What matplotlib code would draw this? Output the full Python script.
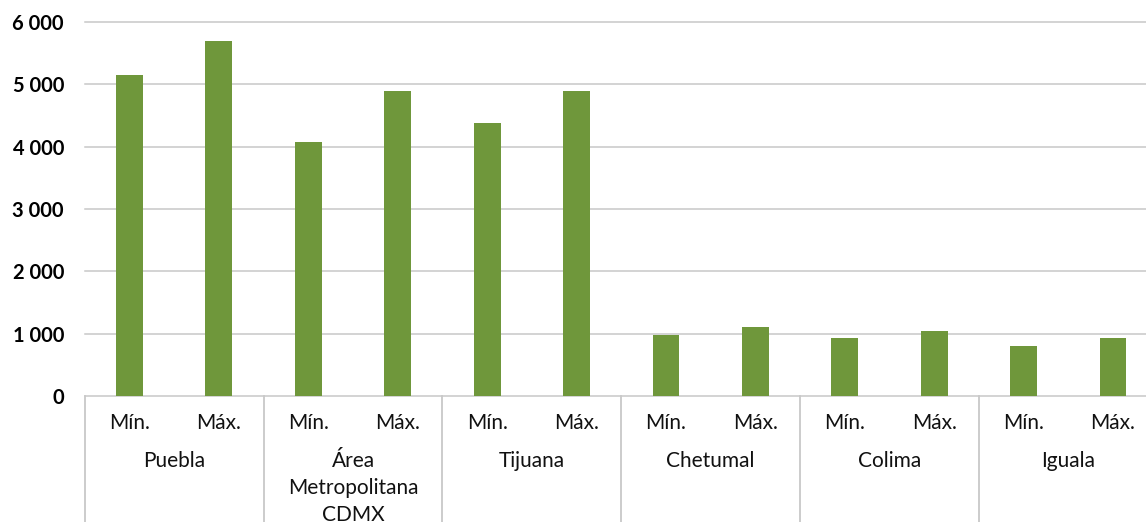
import matplotlib.pyplot as plt
from matplotlib.transforms import blended_transform_factory

# data
cities = ["Puebla", "Área\nMetropolitana\nCDMX", "Tijuana", "Chetumal", "Colima", "Iguala"]
sub_labels = ["Mín.", "Máx."]
min_vals = [5150, 4080, 4380, 980, 930, 800]
max_vals = [5700, 4900, 4900, 1110, 1045, 930]
yticks = [0, 1000, 2000, 3000, 4000, 5000, 6000]
ytick_labels = ["0", "1 000", "2 000", "3 000", "4 000", "5 000", "6 000"]

green = "#6f973b"
grid_c = "#c8c8c8"

plt.rcParams['font.family'] = ['Lato', 'DejaVu Sans']

W, H = 1146, 522
fig = plt.figure(figsize=(W / 100, H / 100), dpi=100)
left_px, right_px, top_px, bottom_px = 84.8, 1146, 22, 396
ax = fig.add_axes([left_px / W, 1 - bottom_px / H, (right_px - left_px) / W, (bottom_px - top_px) / H])

values = []
for a, b in zip(min_vals, max_vals):
    values += [a, b]
xs = list(range(len(values)))
ax.bar(xs, values, width=0.3, color=green, zorder=3)

ax.set_xlim(-0.5, 11.37)
ax.set_ylim(0, 6000)
ax.set_yticks(yticks)
ax.set_yticklabels(ytick_labels, fontsize=14.5, fontweight='bold')
ax.tick_params(axis='y', length=0, pad=15)
ax.set_xticks([])
for s in ax.spines.values():
    s.set_visible(False)

for y in yticks:
    ax.axhline(y, color=grid_c, lw=1.1, zorder=1, clip_on=False)

ax_h = bottom_px - top_px
trans = blended_transform_factory(ax.transData, ax.transAxes)

# separators between groups, running down to the figure edge
for k in range(len(cities) + 1):
    xk = -0.5 + 2 * k
    ax.plot([xk, xk], [0, -(H - bottom_px) / ax_h], transform=trans,
            color=grid_c, lw=1.3, clip_on=False, zorder=2)

# sub labels and city names
for i, x in enumerate(xs):
    ax.text(x, -(423 - bottom_px) / ax_h, sub_labels[i % 2], transform=trans,
            ha='center', va='center', fontsize=15, color='#111111')
for g, name in enumerate(cities):
    ax.text(2 * g + 0.5, -(451 - bottom_px) / ax_h, name, transform=trans,
            ha='center', va='top', fontsize=15, color='#111111', linespacing=1.45)

fig.savefig("out.png", dpi=100)
